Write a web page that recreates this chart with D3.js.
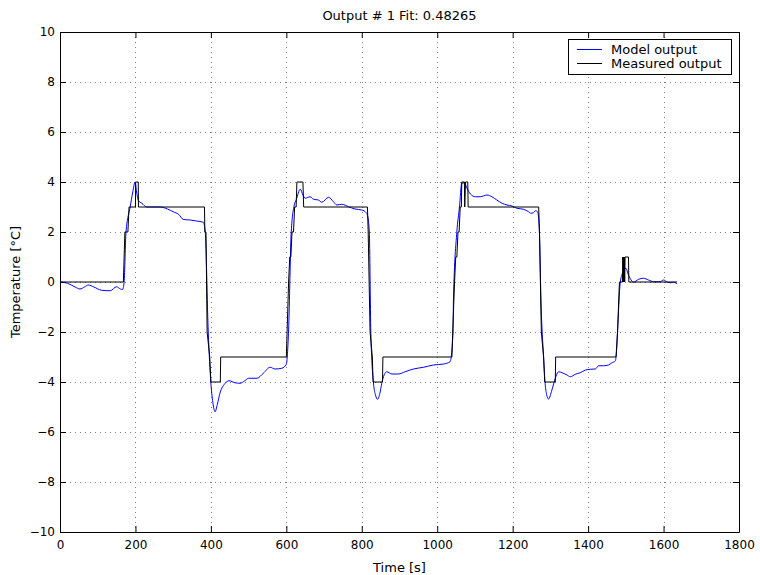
<!DOCTYPE html>
<html>
<head>
<meta charset="utf-8">
<script src="https://cdn.jsdelivr.net/npm/d3@7"></script>
<style>
  body { margin: 0; background: #fff; }
  text { font-family: "DejaVu Sans", sans-serif; }
</style>
</head>
<body>
<svg width="760" height="575"></svg>
<script>
// time axis [s] and values [°C]
const modelT = [0, 20, 40, 53, 65, 75, 90, 110, 133, 150, 160, 166, 170, 175, 186, 193, 199, 203, 208, 217, 230, 265, 285, 300, 315, 327, 345, 362, 380, 385,
  393, 400, 406, 411, 417, 424, 438, 448, 464, 477, 490, 500, 522, 539, 557, 570, 588, 600, 606,
  613, 621, 626, 637, 644, 650, 663, 672, 685, 694, 712, 725, 734, 747, 765, 782, 800, 812, 815, 820,
  824, 831, 836, 842, 848, 853, 866, 880, 897, 915, 937, 964, 990, 1017, 1034, 1042, 1043,
  1052, 1059, 1065, 1072, 1079, 1088, 1101, 1114, 1132, 1145, 1158, 1172, 1185, 1198, 1211, 1229, 1242, 1248, 1255, 1260, 1266, 1271, 1275,
  1282, 1286, 1290, 1295, 1304, 1313, 1322, 1331, 1344, 1353, 1366, 1379, 1393, 1406, 1419, 1428, 1441, 1454, 1463, 1472, 1475, 1478,
  1485, 1491, 1500, 1507, 1516, 1520, 1534, 1547, 1560, 1574, 1591, 1600, 1609, 1618, 1627, 1636];
const modelY = [0, -0.05, -0.2, -0.28, -0.2, -0.12, -0.2, -0.33, -0.35, -0.19, -0.28, -0.3, 0, 2, 3, 3.6, 4.0, 3.6, 3.25, 3.15, 3.0, 3.0, 2.92, 2.81, 2.7, 2.5, 2.48, 2.44, 2.39, 2,
  -2, -4.04, -4.9, -5.19, -4.9, -4.45, -4.05, -3.95, -4.03, -4.05, -3.95, -3.85, -3.85, -3.65, -3.41, -3.48, -3.45, -3.29, -1.92,
  2, 3.08, 3.28, 3.71, 3.48, 3.35, 3.41, 3.31, 3.28, 3.19, 3.39, 3.21, 3.08, 3.11, 3.01, 2.92, 2.88, 2.77, 2.68, 2,
  -2, -4.04, -4.5, -4.69, -4.45, -4.05, -3.59, -3.68, -3.68, -3.59, -3.48, -3.41, -3.32, -3.28, -3.19, -2, -0.72,
  2, 3, 3.95, 3.97, 3.75, 3.52, 3.41, 3.41, 3.48, 3.41, 3.28, 3.15, 3.08, 3.04, 2.95, 2.91, 2.81, 2.75, 2.77, 2.85, 2.81, 2, -0.72,
  -3, -4.05, -4.5, -4.68, -4.32, -3.85, -3.59, -3.63, -3.72, -3.79, -3.69, -3.63, -3.52, -3.49, -3.48, -3.35, -3.35, -3.32, -3.23, -3.16, -2.85, -2,
  -0.05, 0.35, 0.55, 0.28, 0.04, -0.01, 0.11, 0.15, 0.08, 0.01, 0.01, 0.08, 0, -0.03, -0.01, -0.08];

const measT = [0, 168, 172, 180, 183, 200, 200.5, 207.5, 208, 383, 384, 387, 390, 397, 400, 425, 426, 600,
  602, 606, 609, 612, 615, 619, 622, 626, 628, 644, 646, 815, 817, 822, 828, 830, 855, 856, 1039,
  1041, 1046, 1049, 1052, 1055, 1058, 1061, 1064, 1065, 1072, 1073, 1075, 1081, 1082, 1269,
  1271, 1276, 1282, 1285, 1313, 1314, 1474, 1478, 1483, 1491, 1492, 1493, 1494, 1495, 1496, 1497, 1498, 1507, 1508, 1636];
const measY = [0, 0, 2, 2, 3, 3, 4, 4, 3, 3, 2, 2, -2, -3, -4, -4, -3, -3,
  -2, 0, 1, 1, 2, 2, 3, 3, 4, 4, 3, 3, 2, -2, -3, -4, -4, -3, -3,
  -2, 0, 1, 1, 2, 2, 3, 3, 4, 4, 3, 4, 4, 3, 3,
  2, -2, -3, -4, -4, -3, -3, -2, 0, 0, 1, 0, 1, 0, 1, 0, 1, 1, 0, 0];

const xTicks = [0, 200, 400, 600, 800, 1000, 1200, 1400, 1600, 1800];
const yTicks = [-10, -8, -6, -4, -2, 0, 2, 4, 6, 8, 10];

const titleText = "Output # 1 Fit: 0.48265";
const legendNames = ["Model output", "Measured output"];
const legendColors = ["#0000ff", "#000000"];

const pLeft = 60, pRight = 739, pTop = 32, pBottom = 532;

const x = d3.scaleLinear().domain([0, 1800]).range([pLeft, pRight]);
const y = d3.scaleLinear().domain([-10, 10]).range([pBottom, pTop]);

const svg = d3.select("svg");

// grid
const grid = svg.append("g")
  .attr("stroke", "#808080")
  .attr("stroke-width", 1)
  .attr("stroke-dasharray", "1,4")
  .attr("shape-rendering", "crispEdges");
grid.selectAll(".gx")
  .data(xTicks.slice(1, -1))
  .enter().append("line")
  .attr("x1", d => Math.round(x(d)) + 0.5).attr("x2", d => Math.round(x(d)) + 0.5)
  .attr("y1", pTop).attr("y2", pBottom);
grid.selectAll(".gy")
  .data(yTicks.slice(1, -1))
  .enter().append("line")
  .attr("y1", d => Math.round(y(d)) + 0.5).attr("y2", d => Math.round(y(d)) + 0.5)
  .attr("x1", pLeft).attr("x2", pRight);

// axes, ticks pointing inwards on all four sides
const tk = 6;
svg.append("g").attr("transform", `translate(0,${pBottom})`)
  .call(d3.axisBottom(x).tickValues(xTicks).tickSizeInner(-tk).tickSizeOuter(0).tickPadding(8)
    .tickFormat(d3.format("d")));
svg.append("g").attr("transform", `translate(0,${pTop})`)
  .call(d3.axisTop(x).tickValues(xTicks).tickSizeInner(-tk).tickSizeOuter(0).tickFormat(""));
svg.append("g").attr("transform", `translate(${pLeft},0)`)
  .call(d3.axisLeft(y).tickValues(yTicks).tickSizeInner(-tk).tickSizeOuter(0).tickPadding(5)
    .tickFormat(d => d < 0 ? "\u2212" + Math.abs(d) : d));
svg.append("g").attr("transform", `translate(${pRight},0)`)
  .call(d3.axisRight(y).tickValues(yTicks).tickSizeInner(-tk).tickSizeOuter(0).tickFormat(""));

svg.selectAll(".tick text")
  .attr("font-family", "Liberation Sans, Arial, sans-serif")
  .attr("font-size", 12)
  .attr("fill", "#000");
svg.selectAll(".domain").attr("stroke", "#000");

// lines
svg.append("path")
  .datum(d3.zip(modelT, modelY))
  .attr("fill", "none")
  .attr("stroke", legendColors[0])
  .attr("stroke-width", 1)
  .attr("d", d3.line().x(d => x(d[0])).y(d => y(d[1])).curve(d3.curveMonotoneX));
svg.append("path")
  .datum(d3.zip(measT, measY))
  .attr("fill", "none")
  .attr("stroke", legendColors[1])
  .attr("stroke-width", 1)
  .attr("d", d3.line().x(d => x(d[0])).y(d => y(d[1])));

// title and labels
svg.append("text")
  .attr("x", (pLeft + pRight) / 2).attr("y", 20)
  .attr("text-anchor", "middle")
  .attr("font-size", 13)
  .text(titleText);
svg.append("text")
  .attr("x", (pLeft + pRight) / 2).attr("y", 572)
  .attr("text-anchor", "middle")
  .attr("font-size", 13)
  .text("Time [s]");
svg.append("text")
  .attr("transform", `translate(20,${(pTop + pBottom) / 2}) rotate(-90)`)
  .attr("text-anchor", "middle")
  .attr("font-size", 13)
  .text("Temperature [°C]");

// legend
const lg = svg.append("g");
lg.append("rect")
  .attr("x", 568.5).attr("y", 39.5).attr("width", 163).attr("height", 35)
  .attr("fill", "#fff").attr("stroke", "#000");
legendNames.forEach((name, i) => {
  const ly = 49.5 + i * 14;
  lg.append("line")
    .attr("x1", 577).attr("x2", 602).attr("y1", ly).attr("y2", ly)
    .attr("stroke", legendColors[i]);
  lg.append("text")
    .attr("x", 611).attr("y", ly + 4.5)
    .attr("font-size", 13)
    .text(name);
});
</script>
</body>
</html>
